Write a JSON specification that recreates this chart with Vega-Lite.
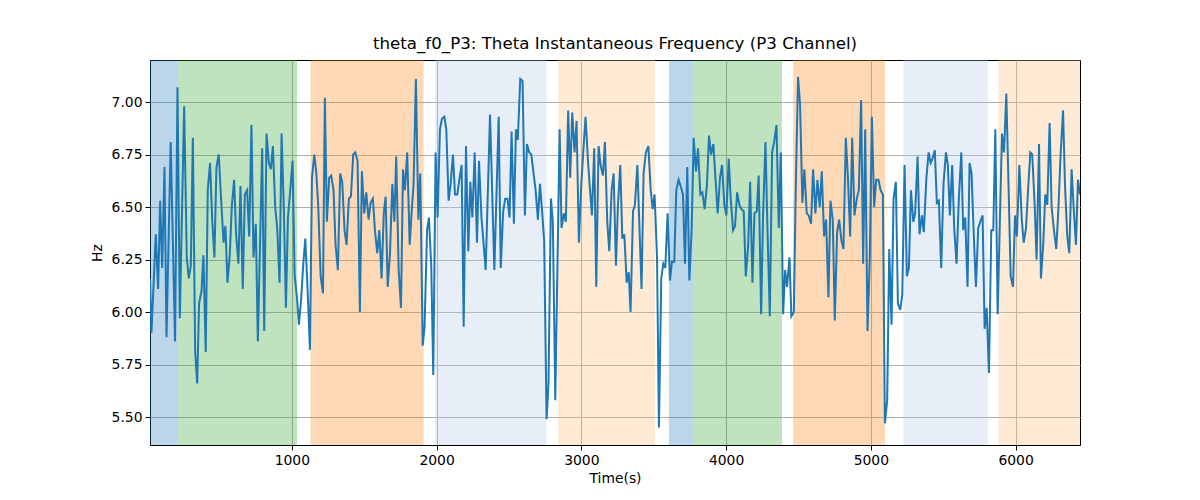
{
  "$schema": "https://vega.github.io/schema/vega-lite/v6.json",
  "width": 930,
  "height": 385,
  "autosize": "none",
  "padding": {"left": 150, "top": 60, "right": 120, "bottom": 55},
  "background": "white",
  "title": {"text": "theta_f0_P3: Theta Instantaneous Frequency (P3 Channel)", "font": "DejaVu Sans", "fontSize": 16.67, "fontWeight": "normal", "color": "black", "offset": 7},
  "config": {
    "view": {"stroke": "black", "strokeWidth": 1},
    "axis": {"labelFont": "DejaVu Sans", "titleFont": "DejaVu Sans", "labelFontSize": 13.9, "titleFontSize": 13.9, "titleFontWeight": "normal", "labelColor": "black", "titleColor": "black", "tickColor": "black", "tickWidth": 1, "domain": false, "gridColor": "#b0b0b0", "gridWidth": 1.1, "tickSize": 5, "labelPadding": 3}
  },
  "datasets": {
    "bands": [
      {"start": 20, "end": 216, "kind": "s1"},
      {"start": 216, "end": 1036, "kind": "s2"},
      {"start": 1129, "end": 1910, "kind": "s3"},
      {"start": 1990, "end": 2759, "kind": "s4"},
      {"start": 2839, "end": 3508, "kind": "s5"},
      {"start": 3605, "end": 3776, "kind": "s1"},
      {"start": 3776, "end": 4386, "kind": "s2"},
      {"start": 4463, "end": 5098, "kind": "s3"},
      {"start": 5224, "end": 5809, "kind": "s4"},
      {"start": 5881, "end": 6445, "kind": "s5"}
    ],
    "freq": [
      {"t": 20, "hz": 6.16}, {"t": 30, "hz": 5.90}, {"t": 60, "hz": 6.37}, {"t": 76, "hz": 6.11}, {"t": 90, "hz": 6.53},
      {"t": 104, "hz": 6.21}, {"t": 120, "hz": 6.69}, {"t": 134, "hz": 5.88}, {"t": 163, "hz": 6.81}, {"t": 193, "hz": 5.86},
      {"t": 210, "hz": 7.07}, {"t": 226, "hz": 5.97}, {"t": 256, "hz": 6.98}, {"t": 274, "hz": 6.26}, {"t": 288, "hz": 6.16},
      {"t": 302, "hz": 6.22}, {"t": 316, "hz": 6.83}, {"t": 332, "hz": 5.81}, {"t": 346, "hz": 5.66}, {"t": 359, "hz": 6.04},
      {"t": 376, "hz": 6.10}, {"t": 389, "hz": 6.27}, {"t": 405, "hz": 5.81}, {"t": 419, "hz": 6.58}, {"t": 435, "hz": 6.71},
      {"t": 449, "hz": 6.45}, {"t": 465, "hz": 6.26}, {"t": 479, "hz": 6.69}, {"t": 495, "hz": 6.75}, {"t": 512, "hz": 6.53},
      {"t": 528, "hz": 6.33}, {"t": 541, "hz": 6.41}, {"t": 555, "hz": 6.14}, {"t": 571, "hz": 6.27}, {"t": 585, "hz": 6.50},
      {"t": 601, "hz": 6.63}, {"t": 615, "hz": 6.37}, {"t": 631, "hz": 6.23}, {"t": 645, "hz": 6.60}, {"t": 661, "hz": 6.11},
      {"t": 675, "hz": 6.56}, {"t": 691, "hz": 6.58}, {"t": 705, "hz": 6.36}, {"t": 721, "hz": 6.89}, {"t": 735, "hz": 6.26},
      {"t": 751, "hz": 6.42}, {"t": 765, "hz": 5.86}, {"t": 795, "hz": 6.78}, {"t": 809, "hz": 5.91}, {"t": 825, "hz": 6.85},
      {"t": 841, "hz": 6.71}, {"t": 855, "hz": 6.68}, {"t": 869, "hz": 6.79}, {"t": 885, "hz": 6.50}, {"t": 899, "hz": 6.40},
      {"t": 915, "hz": 6.14}, {"t": 929, "hz": 6.85}, {"t": 945, "hz": 6.48}, {"t": 959, "hz": 6.02}, {"t": 973, "hz": 6.45},
      {"t": 989, "hz": 6.58}, {"t": 1005, "hz": 6.72}, {"t": 1019, "hz": 6.18}, {"t": 1035, "hz": 6.07}, {"t": 1049, "hz": 5.94},
      {"t": 1065, "hz": 6.07}, {"t": 1079, "hz": 6.23}, {"t": 1093, "hz": 6.35}, {"t": 1109, "hz": 6.10}, {"t": 1125, "hz": 5.82},
      {"t": 1139, "hz": 6.64}, {"t": 1155, "hz": 6.75}, {"t": 1169, "hz": 6.66}, {"t": 1182, "hz": 6.51}, {"t": 1199, "hz": 6.17},
      {"t": 1215, "hz": 6.09}, {"t": 1228, "hz": 7.02}, {"t": 1242, "hz": 6.43}, {"t": 1258, "hz": 6.64}, {"t": 1272, "hz": 6.65},
      {"t": 1288, "hz": 6.58}, {"t": 1302, "hz": 6.32}, {"t": 1318, "hz": 6.20}, {"t": 1334, "hz": 6.66}, {"t": 1348, "hz": 6.62},
      {"t": 1364, "hz": 6.39}, {"t": 1378, "hz": 6.32}, {"t": 1394, "hz": 6.54}, {"t": 1408, "hz": 6.55}, {"t": 1424, "hz": 6.75},
      {"t": 1438, "hz": 6.76}, {"t": 1454, "hz": 6.72}, {"t": 1470, "hz": 6.00}, {"t": 1484, "hz": 6.67}, {"t": 1500, "hz": 6.47},
      {"t": 1514, "hz": 6.57}, {"t": 1530, "hz": 6.44}, {"t": 1544, "hz": 6.52}, {"t": 1560, "hz": 6.54}, {"t": 1574, "hz": 6.39},
      {"t": 1590, "hz": 6.28}, {"t": 1604, "hz": 6.39}, {"t": 1620, "hz": 6.16}, {"t": 1635, "hz": 6.47}, {"t": 1648, "hz": 6.55},
      {"t": 1662, "hz": 6.12}, {"t": 1678, "hz": 6.28}, {"t": 1694, "hz": 6.61}, {"t": 1708, "hz": 6.43}, {"t": 1721, "hz": 6.74},
      {"t": 1738, "hz": 6.20}, {"t": 1754, "hz": 6.02}, {"t": 1768, "hz": 6.68}, {"t": 1781, "hz": 6.58}, {"t": 1797, "hz": 6.76},
      {"t": 1814, "hz": 6.32}, {"t": 1827, "hz": 6.47}, {"t": 1841, "hz": 6.61}, {"t": 1857, "hz": 7.11}, {"t": 1874, "hz": 6.44},
      {"t": 1887, "hz": 6.66}, {"t": 1904, "hz": 5.84}, {"t": 1917, "hz": 5.93}, {"t": 1934, "hz": 6.39}, {"t": 1947, "hz": 6.45},
      {"t": 1963, "hz": 6.22}, {"t": 1977, "hz": 5.70}, {"t": 1993, "hz": 6.76}, {"t": 2007, "hz": 6.45}, {"t": 2023, "hz": 6.87},
      {"t": 2037, "hz": 6.92}, {"t": 2053, "hz": 6.93}, {"t": 2067, "hz": 6.87}, {"t": 2083, "hz": 6.53}, {"t": 2097, "hz": 6.61},
      {"t": 2113, "hz": 6.75}, {"t": 2127, "hz": 6.56}, {"t": 2143, "hz": 6.56}, {"t": 2157, "hz": 6.63}, {"t": 2173, "hz": 6.70},
      {"t": 2187, "hz": 5.93}, {"t": 2203, "hz": 6.79}, {"t": 2219, "hz": 6.29}, {"t": 2233, "hz": 6.62}, {"t": 2247, "hz": 6.45},
      {"t": 2263, "hz": 6.76}, {"t": 2279, "hz": 6.33}, {"t": 2293, "hz": 6.72}, {"t": 2310, "hz": 6.45}, {"t": 2339, "hz": 6.20},
      {"t": 2369, "hz": 6.94}, {"t": 2399, "hz": 6.20}, {"t": 2429, "hz": 6.93}, {"t": 2443, "hz": 6.21}, {"t": 2460, "hz": 6.48},
      {"t": 2474, "hz": 6.54}, {"t": 2490, "hz": 6.54}, {"t": 2504, "hz": 6.45}, {"t": 2518, "hz": 6.86}, {"t": 2534, "hz": 6.42},
      {"t": 2548, "hz": 6.87}, {"t": 2561, "hz": 6.82}, {"t": 2578, "hz": 7.11}, {"t": 2594, "hz": 7.10}, {"t": 2610, "hz": 6.46},
      {"t": 2624, "hz": 6.80}, {"t": 2640, "hz": 6.76}, {"t": 2654, "hz": 6.75}, {"t": 2670, "hz": 6.66}, {"t": 2684, "hz": 6.58},
      {"t": 2700, "hz": 6.44}, {"t": 2714, "hz": 6.61}, {"t": 2730, "hz": 6.47}, {"t": 2743, "hz": 6.34}, {"t": 2760, "hz": 5.49},
      {"t": 2773, "hz": 5.66}, {"t": 2790, "hz": 6.54}, {"t": 2803, "hz": 6.43}, {"t": 2820, "hz": 5.58}, {"t": 2850, "hz": 6.87},
      {"t": 2863, "hz": 6.40}, {"t": 2879, "hz": 6.47}, {"t": 2893, "hz": 6.43}, {"t": 2909, "hz": 6.96}, {"t": 2923, "hz": 6.64},
      {"t": 2937, "hz": 6.95}, {"t": 2953, "hz": 6.76}, {"t": 2967, "hz": 6.91}, {"t": 2983, "hz": 6.33}, {"t": 2999, "hz": 6.60},
      {"t": 3013, "hz": 6.76}, {"t": 3029, "hz": 6.93}, {"t": 3045, "hz": 6.73}, {"t": 3059, "hz": 6.59}, {"t": 3073, "hz": 6.46},
      {"t": 3089, "hz": 6.78}, {"t": 3103, "hz": 6.12}, {"t": 3119, "hz": 6.79}, {"t": 3133, "hz": 6.70}, {"t": 3149, "hz": 6.65},
      {"t": 3163, "hz": 6.81}, {"t": 3179, "hz": 6.43}, {"t": 3193, "hz": 6.29}, {"t": 3209, "hz": 6.58}, {"t": 3223, "hz": 6.66},
      {"t": 3239, "hz": 6.22}, {"t": 3253, "hz": 6.51}, {"t": 3269, "hz": 6.70}, {"t": 3283, "hz": 6.35}, {"t": 3297, "hz": 6.37},
      {"t": 3313, "hz": 6.14}, {"t": 3327, "hz": 6.19}, {"t": 3340, "hz": 6.00}, {"t": 3357, "hz": 6.48}, {"t": 3370, "hz": 6.51},
      {"t": 3387, "hz": 6.70}, {"t": 3400, "hz": 6.43}, {"t": 3416, "hz": 6.11}, {"t": 3430, "hz": 6.66}, {"t": 3446, "hz": 6.76},
      {"t": 3463, "hz": 6.79}, {"t": 3479, "hz": 6.58}, {"t": 3493, "hz": 6.49}, {"t": 3506, "hz": 6.56}, {"t": 3523, "hz": 6.26},
      {"t": 3536, "hz": 5.45}, {"t": 3552, "hz": 6.16}, {"t": 3566, "hz": 6.23}, {"t": 3580, "hz": 6.21}, {"t": 3596, "hz": 6.47},
      {"t": 3612, "hz": 6.15}, {"t": 3626, "hz": 6.24}, {"t": 3642, "hz": 6.24}, {"t": 3656, "hz": 6.58}, {"t": 3672, "hz": 6.63},
      {"t": 3686, "hz": 6.60}, {"t": 3702, "hz": 6.56}, {"t": 3716, "hz": 6.23}, {"t": 3732, "hz": 6.69}, {"t": 3746, "hz": 6.15},
      {"t": 3762, "hz": 6.39}, {"t": 3776, "hz": 6.83}, {"t": 3792, "hz": 6.67}, {"t": 3806, "hz": 6.78}, {"t": 3822, "hz": 6.56},
      {"t": 3836, "hz": 6.57}, {"t": 3852, "hz": 6.49}, {"t": 3868, "hz": 6.61}, {"t": 3882, "hz": 6.84}, {"t": 3896, "hz": 6.75},
      {"t": 3912, "hz": 6.80}, {"t": 3928, "hz": 6.62}, {"t": 3942, "hz": 6.47}, {"t": 3958, "hz": 6.64}, {"t": 3972, "hz": 6.70},
      {"t": 3988, "hz": 6.51}, {"t": 4002, "hz": 6.46}, {"t": 4018, "hz": 6.73}, {"t": 4032, "hz": 6.54}, {"t": 4048, "hz": 6.39},
      {"t": 4062, "hz": 6.41}, {"t": 4076, "hz": 6.57}, {"t": 4092, "hz": 6.51}, {"t": 4106, "hz": 6.49}, {"t": 4122, "hz": 6.48},
      {"t": 4136, "hz": 6.17}, {"t": 4152, "hz": 6.31}, {"t": 4166, "hz": 6.62}, {"t": 4182, "hz": 6.14}, {"t": 4196, "hz": 6.47},
      {"t": 4212, "hz": 6.48}, {"t": 4225, "hz": 6.65}, {"t": 4242, "hz": 5.99}, {"t": 4255, "hz": 6.45}, {"t": 4272, "hz": 6.81},
      {"t": 4285, "hz": 6.42}, {"t": 4302, "hz": 5.98}, {"t": 4318, "hz": 6.76}, {"t": 4332, "hz": 6.81}, {"t": 4348, "hz": 6.89},
      {"t": 4364, "hz": 6.40}, {"t": 4378, "hz": 6.76}, {"t": 4394, "hz": 5.99}, {"t": 4408, "hz": 6.20}, {"t": 4421, "hz": 6.12},
      {"t": 4438, "hz": 6.26}, {"t": 4451, "hz": 5.98}, {"t": 4468, "hz": 6.00}, {"t": 4481, "hz": 6.58}, {"t": 4497, "hz": 7.12},
      {"t": 4511, "hz": 6.99}, {"t": 4527, "hz": 6.52}, {"t": 4541, "hz": 6.68}, {"t": 4557, "hz": 6.47}, {"t": 4571, "hz": 6.46},
      {"t": 4587, "hz": 6.42}, {"t": 4601, "hz": 6.68}, {"t": 4617, "hz": 6.47}, {"t": 4631, "hz": 6.63}, {"t": 4647, "hz": 6.50},
      {"t": 4661, "hz": 6.67}, {"t": 4677, "hz": 6.36}, {"t": 4691, "hz": 6.44}, {"t": 4707, "hz": 6.07}, {"t": 4721, "hz": 6.53},
      {"t": 4737, "hz": 6.44}, {"t": 4751, "hz": 5.96}, {"t": 4767, "hz": 6.38}, {"t": 4781, "hz": 6.44}, {"t": 4797, "hz": 6.34},
      {"t": 4811, "hz": 6.30}, {"t": 4827, "hz": 6.83}, {"t": 4841, "hz": 6.65}, {"t": 4857, "hz": 6.36}, {"t": 4871, "hz": 6.83},
      {"t": 4887, "hz": 6.46}, {"t": 4903, "hz": 6.54}, {"t": 4917, "hz": 6.58}, {"t": 4933, "hz": 7.01}, {"t": 4947, "hz": 6.23},
      {"t": 4961, "hz": 6.87}, {"t": 4977, "hz": 5.91}, {"t": 4993, "hz": 6.26}, {"t": 5007, "hz": 6.93}, {"t": 5023, "hz": 6.50},
      {"t": 5037, "hz": 6.63}, {"t": 5053, "hz": 6.63}, {"t": 5067, "hz": 6.58}, {"t": 5083, "hz": 6.56}, {"t": 5097, "hz": 5.47},
      {"t": 5113, "hz": 5.58}, {"t": 5127, "hz": 6.30}, {"t": 5143, "hz": 5.94}, {"t": 5157, "hz": 6.54}, {"t": 5173, "hz": 6.62},
      {"t": 5187, "hz": 6.04}, {"t": 5203, "hz": 6.01}, {"t": 5217, "hz": 6.08}, {"t": 5233, "hz": 6.70}, {"t": 5249, "hz": 6.17},
      {"t": 5263, "hz": 6.21}, {"t": 5277, "hz": 6.58}, {"t": 5293, "hz": 6.43}, {"t": 5306, "hz": 6.47}, {"t": 5323, "hz": 6.74},
      {"t": 5336, "hz": 6.37}, {"t": 5353, "hz": 6.46}, {"t": 5366, "hz": 6.38}, {"t": 5383, "hz": 6.63}, {"t": 5399, "hz": 6.76},
      {"t": 5413, "hz": 6.71}, {"t": 5426, "hz": 6.73}, {"t": 5442, "hz": 6.77}, {"t": 5456, "hz": 6.52}, {"t": 5470, "hz": 6.53},
      {"t": 5486, "hz": 6.21}, {"t": 5502, "hz": 6.61}, {"t": 5519, "hz": 6.76}, {"t": 5532, "hz": 6.70}, {"t": 5546, "hz": 6.46},
      {"t": 5562, "hz": 6.70}, {"t": 5576, "hz": 6.40}, {"t": 5592, "hz": 6.23}, {"t": 5608, "hz": 6.54}, {"t": 5625, "hz": 6.76},
      {"t": 5638, "hz": 6.39}, {"t": 5652, "hz": 6.45}, {"t": 5668, "hz": 6.12}, {"t": 5682, "hz": 6.71}, {"t": 5696, "hz": 6.66},
      {"t": 5712, "hz": 6.35}, {"t": 5726, "hz": 6.12}, {"t": 5742, "hz": 6.40}, {"t": 5756, "hz": 6.43}, {"t": 5772, "hz": 6.46},
      {"t": 5786, "hz": 5.92}, {"t": 5800, "hz": 6.02}, {"t": 5816, "hz": 5.71}, {"t": 5832, "hz": 6.39}, {"t": 5846, "hz": 6.39},
      {"t": 5860, "hz": 6.87}, {"t": 5876, "hz": 5.99}, {"t": 5892, "hz": 6.45}, {"t": 5906, "hz": 6.85}, {"t": 5920, "hz": 6.76},
      {"t": 5936, "hz": 7.04}, {"t": 5952, "hz": 6.58}, {"t": 5966, "hz": 6.17}, {"t": 5982, "hz": 6.12}, {"t": 5996, "hz": 6.46},
      {"t": 6009, "hz": 6.36}, {"t": 6026, "hz": 6.70}, {"t": 6042, "hz": 6.45}, {"t": 6056, "hz": 6.33}, {"t": 6072, "hz": 6.40},
      {"t": 6086, "hz": 6.58}, {"t": 6102, "hz": 6.76}, {"t": 6115, "hz": 6.75}, {"t": 6132, "hz": 6.51}, {"t": 6145, "hz": 6.25},
      {"t": 6162, "hz": 6.80}, {"t": 6175, "hz": 6.16}, {"t": 6191, "hz": 6.32}, {"t": 6205, "hz": 6.56}, {"t": 6219, "hz": 6.51},
      {"t": 6235, "hz": 6.90}, {"t": 6249, "hz": 6.50}, {"t": 6265, "hz": 6.39}, {"t": 6281, "hz": 6.30}, {"t": 6295, "hz": 6.48},
      {"t": 6311, "hz": 6.75}, {"t": 6328, "hz": 6.96}, {"t": 6341, "hz": 6.61}, {"t": 6357, "hz": 6.36}, {"t": 6371, "hz": 6.28},
      {"t": 6387, "hz": 6.68}, {"t": 6401, "hz": 6.50}, {"t": 6417, "hz": 6.32}, {"t": 6431, "hz": 6.63}, {"t": 6445, "hz": 6.56}
    ]
  },
  "layer": [
    {
      "data": {"name": "bands"},
      "mark": {"type": "rect", "opacity": 0.3},
      "encoding": {
        "x": {"field": "start", "type": "quantitative", "scale": {"domain": [20, 6445], "nice": false, "zero": false}, "title": "Time(s)", "axis": {"values": [1000, 2000, 3000, 4000, 5000, 6000], "format": "d", "titlePadding": 5}},
        "x2": {"field": "end"},
        "color": {"field": "kind", "type": "nominal", "scale": {"domain": ["s1", "s2", "s3", "s4", "s5"], "range": ["#1f77b4", "#2ca02c", "#ff7f0e", "#aec7e8", "#ffbb78"]}, "legend": null}
      }
    },
    {
      "data": {"name": "freq"},
      "mark": {"type": "line", "color": "#1f77b4", "strokeWidth": 2, "clip": true},
      "encoding": {
        "x": {"field": "t", "type": "quantitative", "scale": {"domain": [20, 6445], "nice": false, "zero": false}, "title": "Time(s)", "axis": {"values": [1000, 2000, 3000, 4000, 5000, 6000], "format": "d", "titlePadding": 5}},
        "y": {"field": "hz", "type": "quantitative", "scale": {"domain": [5.367, 7.2], "nice": false, "zero": false}, "title": "Hz", "axis": {"values": [5.5, 5.75, 6.0, 6.25, 6.5, 6.75, 7.0], "format": ".2f", "titlePadding": 7}}
      }
    }
  ]
}
